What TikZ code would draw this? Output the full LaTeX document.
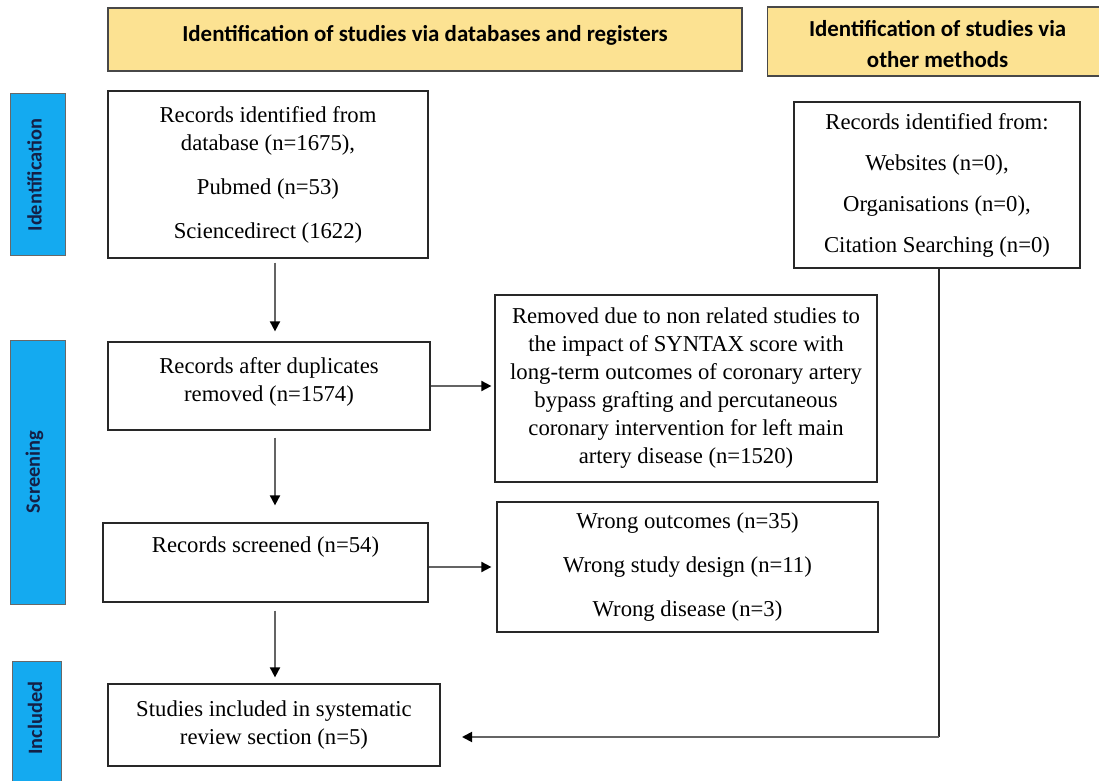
\documentclass[tikz,border=0pt]{standalone}
\usepackage{fontspec}
\setmainfont{Liberation Serif}
\newfontfamily\hdrfont{Carlito}
\usetikzlibrary{arrows.meta}
\definecolor{hdrfill}{RGB}{252,226,146}
\definecolor{sidefill}{RGB}{20,170,240}
\definecolor{sidetext}{RGB}{20,32,70}
\definecolor{edgec}{RGB}{40,40,40}
\definecolor{arrowc}{RGB}{100,100,100}
\begin{document}
\begin{tikzpicture}[x=0.5pt,y=-0.5pt,
  box/.style={draw=edgec, line width=0.6pt, fill=white, inner sep=0pt, align=center,
    font=\fontsize{11.35}{14}\selectfont},
  hdrbox/.style={draw=edgec!85, line width=0.6pt, fill=hdrfill, inner sep=0pt, align=center,
    font=\hdrfont\bfseries\fontsize{11.45}{15.5}\selectfont},
  sidebox/.style={draw=edgec!70, line width=0.5pt, fill=sidefill, inner sep=0pt},
  sidelabel/.style={rotate=90, font=\hdrfont\bfseries\fontsize{10.2}{12}\selectfont, text=sidetext},
  arr/.style={draw=arrowc, line width=0.9pt, -{Triangle[length=5pt,width=5pt,color=black]}},
  plain/.style={draw=edgec, line width=0.7pt}]
\useasboundingbox (0,0) rectangle (1099,781);
% headers
\node[hdrbox, minimum width=317pt, minimum height=31.5pt] (h1) at (425,39.5)
  {\raisebox{2pt}[\height][\depth]{Identification of studies via databases and registers}};
\node[hdrbox, minimum width=170pt, minimum height=34.5pt, anchor=west] (h2) at (767,41.5)
  {\raisebox{-2pt}[\height][\depth]{\begin{tabular}{@{}c@{}}Identification of studies via\\other methods\end{tabular}}};
% side labels
\node[sidebox, minimum width=27.5pt, minimum height=81pt] (s1) at (37.5,175) {};
\node[sidelabel] (s1t) at ([xshift=-1.5pt]s1.center) {Identification};
\node[sidebox, minimum width=27.5pt, minimum height=132pt] (s2) at (37.5,472) {};
\node[sidelabel] (s2t) at ([xshift=-1.5pt]s2.center) {Screening};
\node[sidebox, minimum width=24.5pt, minimum height=62pt, anchor=north] (s3) at (36.5,661) {};
\node[sidelabel] (s3t) at (35,718) {Included};
% boxes
\node[box, minimum width=160pt, minimum height=83.5pt] (A) at (268,174.5)
  {Records identified from\\database (n=1675),\\[8pt]Pubmed (n=53)\\[8pt]Sciencedirect (1622)};
\node[box, minimum width=161pt, minimum height=44pt] (B) at (269,386)
  {\raisebox{2pt}[\height][\depth]{\begin{tabular}{@{}c@{}}Records after duplicates\\removed (n=1574)\end{tabular}}};
\node[box, minimum width=191pt, minimum height=93.5pt] (C) at (686,388.5)
  {Removed due to non related studies to\\the impact of SYNTAX score with\\long-term outcomes of coronary artery\\bypass grafting and percutaneous\\coronary intervention for left main\\artery disease (n=1520)};
\node[box, minimum width=162.5pt, minimum height=39.5pt] (D) at (265.5,562.5)
  {Records screened (n=54)\\\strut};
\node[box, minimum width=190.5pt, minimum height=65pt] (E) at (687.5,567)
  {Wrong outcomes (n=35)\\[8pt]Wrong study design (n=11)\\[8pt]Wrong disease (n=3)};
\node[box, minimum width=166pt, minimum height=41pt] (F) at (274,725)
  {Studies included in systematic\\review section (n=5)};
\node[box, minimum width=143pt, minimum height=83pt] (G) at (937,185)
  {Records identified from:\\[6.5pt]Websites (n=0),\\[6.5pt]Organisations (n=0),\\[6.5pt]Citation Searching (n=0)};
% connectors
\coordinate (ax) at (275,0);
\draw[arr, shorten <=2pt, shorten >=5pt] (A.south -| ax) -- (B.north -| ax);
\draw[arr, shorten <=3.5pt, shorten >=8.5pt] (B.south -| ax) -- (D.north -| ax);
\draw[arr, shorten <=4pt, shorten >=3pt] (D.south -| ax) -- (F.north -| ax);
\draw[arr, shorten >=1.5pt] (B.east) -- (B.east -| C.west);
\draw[arr, shorten >=2.5pt] (D.east |- E.center) -- (E.west);
\coordinate (gx) at (939,0);
\coordinate (gcorner) at (939,737);
\coordinate (fend) at (462,737);
\draw[plain] (G.south -| gx) -- (gcorner);
\draw[arr] (gcorner) -- (fend);
\end{tikzpicture}
\end{document}
